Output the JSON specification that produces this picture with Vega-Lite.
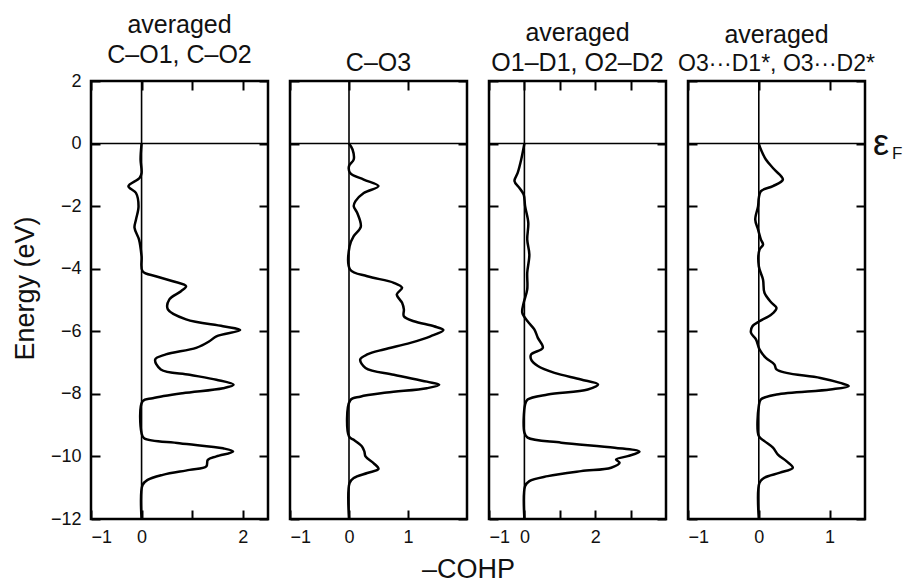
{
  "$schema": "https://vega.github.io/schema/vega-lite/v6.json",
  "padding": {"left": 10, "top": 11, "right": 0, "bottom": 0},
  "background": "white",
  "bounds": "flush",
  "spacing": 22,
  "config": {
    "font": "Liberation Sans",
    "view": {"stroke": "black", "strokeWidth": 2.5},
    "axis": {"grid": false, "domain": false, "tickColor": "black", "tickWidth": 2, "tickSize": -9, "labelFontSize": 18, "labelColor": "#111", "titleFontSize": 27, "titleFontWeight": "normal", "titleColor": "#111", "labelPadding": 18, "labelFont": "Liberation Sans", "titleFont": "Liberation Sans"},
    "title": {"fontSize": 25, "fontWeight": "normal", "color": "#111", "font": "Liberation Sans", "lineHeight": 30, "offset": 4}
  },
  "datasets": {
    "cohp": [
      {"b": 1, "E": 0.0, "C": 0},
      {"b": 1, "E": -0.51, "C": -0.02},
      {"b": 1, "E": -0.94, "C": 0},
      {"b": 1, "E": -1.10, "C": -0.04},
      {"b": 1, "E": -1.36, "C": -0.26},
      {"b": 1, "E": -1.58, "C": -0.11},
      {"b": 1, "E": -2.00, "C": -0.06},
      {"b": 1, "E": -2.43, "C": -0.11},
      {"b": 1, "E": -2.69, "C": -0.14},
      {"b": 1, "E": -3.07, "C": -0.05},
      {"b": 1, "E": -3.60, "C": 0},
      {"b": 1, "E": -4.08, "C": 0.02},
      {"b": 1, "E": -4.24, "C": 0.28},
      {"b": 1, "E": -4.40, "C": 0.62},
      {"b": 1, "E": -4.56, "C": 0.88},
      {"b": 1, "E": -4.72, "C": 0.78},
      {"b": 1, "E": -4.98, "C": 0.55},
      {"b": 1, "E": -5.30, "C": 0.52},
      {"b": 1, "E": -5.62, "C": 0.88},
      {"b": 1, "E": -5.84, "C": 1.61},
      {"b": 1, "E": -5.96, "C": 1.95},
      {"b": 1, "E": -6.16, "C": 1.48},
      {"b": 1, "E": -6.32, "C": 1.34},
      {"b": 1, "E": -6.53, "C": 1.08},
      {"b": 1, "E": -6.74, "C": 0.48},
      {"b": 1, "E": -6.90, "C": 0.27},
      {"b": 1, "E": -7.22, "C": 0.38},
      {"b": 1, "E": -7.39, "C": 0.95},
      {"b": 1, "E": -7.55, "C": 1.48},
      {"b": 1, "E": -7.71, "C": 1.82},
      {"b": 1, "E": -7.82, "C": 1.61},
      {"b": 1, "E": -7.98, "C": 0.81},
      {"b": 1, "E": -8.14, "C": 0.22},
      {"b": 1, "E": -8.24, "C": 0.02},
      {"b": 1, "E": -9.26, "C": 0},
      {"b": 1, "E": -9.42, "C": 0.05},
      {"b": 1, "E": -9.58, "C": 0.75},
      {"b": 1, "E": -9.74, "C": 1.61},
      {"b": 1, "E": -9.84, "C": 1.81},
      {"b": 1, "E": -10.00, "C": 1.48},
      {"b": 1, "E": -10.11, "C": 1.31},
      {"b": 1, "E": -10.32, "C": 1.28},
      {"b": 1, "E": -10.43, "C": 0.95},
      {"b": 1, "E": -10.59, "C": 0.42},
      {"b": 1, "E": -10.75, "C": 0.12},
      {"b": 1, "E": -10.91, "C": 0.02},
      {"b": 1, "E": -12.0, "C": 0},

      {"b": 2, "E": 0.0, "C": 0},
      {"b": 2, "E": -0.19, "C": 0.06},
      {"b": 2, "E": -0.51, "C": 0.08},
      {"b": 2, "E": -0.72, "C": 0},
      {"b": 2, "E": -0.94, "C": 0.02},
      {"b": 2, "E": -1.15, "C": 0.25},
      {"b": 2, "E": -1.36, "C": 0.50},
      {"b": 2, "E": -1.58, "C": 0.25},
      {"b": 2, "E": -1.84, "C": 0.11},
      {"b": 2, "E": -2.00, "C": 0.08},
      {"b": 2, "E": -2.22, "C": 0.14},
      {"b": 2, "E": -2.66, "C": 0.20},
      {"b": 2, "E": -2.96, "C": 0.08},
      {"b": 2, "E": -3.28, "C": 0.01},
      {"b": 2, "E": -4.03, "C": 0.02},
      {"b": 2, "E": -4.24, "C": 0.31},
      {"b": 2, "E": -4.45, "C": 0.76},
      {"b": 2, "E": -4.61, "C": 0.90},
      {"b": 2, "E": -4.82, "C": 0.81},
      {"b": 2, "E": -5.09, "C": 0.90},
      {"b": 2, "E": -5.30, "C": 0.93},
      {"b": 2, "E": -5.52, "C": 0.93},
      {"b": 2, "E": -5.68, "C": 1.10},
      {"b": 2, "E": -5.84, "C": 1.44},
      {"b": 2, "E": -5.96, "C": 1.60},
      {"b": 2, "E": -6.16, "C": 1.38},
      {"b": 2, "E": -6.37, "C": 1.04},
      {"b": 2, "E": -6.58, "C": 0.59},
      {"b": 2, "E": -6.74, "C": 0.31},
      {"b": 2, "E": -6.90, "C": 0.19},
      {"b": 2, "E": -7.17, "C": 0.28},
      {"b": 2, "E": -7.39, "C": 0.76},
      {"b": 2, "E": -7.61, "C": 1.32},
      {"b": 2, "E": -7.71, "C": 1.53},
      {"b": 2, "E": -7.82, "C": 1.32},
      {"b": 2, "E": -7.96, "C": 0.64},
      {"b": 2, "E": -8.09, "C": 0.19},
      {"b": 2, "E": -8.21, "C": 0.02},
      {"b": 2, "E": -9.36, "C": 0},
      {"b": 2, "E": -9.47, "C": 0.08},
      {"b": 2, "E": -9.68, "C": 0.22},
      {"b": 2, "E": -9.84, "C": 0.26},
      {"b": 2, "E": -10.00, "C": 0.28},
      {"b": 2, "E": -10.22, "C": 0.42},
      {"b": 2, "E": -10.40, "C": 0.50},
      {"b": 2, "E": -10.53, "C": 0.31},
      {"b": 2, "E": -10.69, "C": 0.08},
      {"b": 2, "E": -10.85, "C": 0.01},
      {"b": 2, "E": -12.0, "C": 0},

      {"b": 3, "E": 0.0, "C": 0},
      {"b": 3, "E": -0.51, "C": -0.09},
      {"b": 3, "E": -0.94, "C": -0.19},
      {"b": 3, "E": -1.20, "C": -0.28},
      {"b": 3, "E": -1.42, "C": -0.14},
      {"b": 3, "E": -1.63, "C": -0.02},
      {"b": 3, "E": -2.00, "C": 0.02},
      {"b": 3, "E": -2.53, "C": 0.11},
      {"b": 3, "E": -3.07, "C": 0.08},
      {"b": 3, "E": -3.55, "C": 0.14},
      {"b": 3, "E": -4.13, "C": 0.08},
      {"b": 3, "E": -4.66, "C": 0.08},
      {"b": 3, "E": -5.09, "C": -0.02},
      {"b": 3, "E": -5.41, "C": -0.06},
      {"b": 3, "E": -5.68, "C": 0.09},
      {"b": 3, "E": -5.94, "C": 0.28},
      {"b": 3, "E": -6.21, "C": 0.38},
      {"b": 3, "E": -6.53, "C": 0.52},
      {"b": 3, "E": -6.74, "C": 0.19},
      {"b": 3, "E": -6.90, "C": 0.19},
      {"b": 3, "E": -7.11, "C": 0.38},
      {"b": 3, "E": -7.33, "C": 0.85},
      {"b": 3, "E": -7.54, "C": 1.60},
      {"b": 3, "E": -7.70, "C": 2.08},
      {"b": 3, "E": -7.86, "C": 1.79},
      {"b": 3, "E": -8.02, "C": 0.66},
      {"b": 3, "E": -8.18, "C": 0.09},
      {"b": 3, "E": -8.34, "C": 0.02},
      {"b": 3, "E": -9.24, "C": 0},
      {"b": 3, "E": -9.40, "C": 0.09},
      {"b": 3, "E": -9.56, "C": 1.04},
      {"b": 3, "E": -9.72, "C": 2.55},
      {"b": 3, "E": -9.85, "C": 3.25},
      {"b": 3, "E": -9.99, "C": 2.92},
      {"b": 3, "E": -10.10, "C": 2.59},
      {"b": 3, "E": -10.20, "C": 2.69},
      {"b": 3, "E": -10.36, "C": 2.45},
      {"b": 3, "E": -10.47, "C": 1.60},
      {"b": 3, "E": -10.63, "C": 0.66},
      {"b": 3, "E": -10.79, "C": 0.14},
      {"b": 3, "E": -10.95, "C": 0.02},
      {"b": 3, "E": -12.0, "C": 0},

      {"b": 4, "E": 0.0, "C": 0},
      {"b": 4, "E": -0.19, "C": 0.03},
      {"b": 4, "E": -0.51, "C": 0.10},
      {"b": 4, "E": -0.83, "C": 0.22},
      {"b": 4, "E": -1.15, "C": 0.34},
      {"b": 4, "E": -1.36, "C": 0.20},
      {"b": 4, "E": -1.52, "C": 0.03},
      {"b": 4, "E": -1.74, "C": 0},
      {"b": 4, "E": -2.00, "C": -0.01},
      {"b": 4, "E": -2.43, "C": -0.05},
      {"b": 4, "E": -2.75, "C": -0.01},
      {"b": 4, "E": -3.07, "C": 0.03},
      {"b": 4, "E": -3.23, "C": 0.06},
      {"b": 4, "E": -3.39, "C": 0.01},
      {"b": 4, "E": -3.92, "C": 0},
      {"b": 4, "E": -4.35, "C": 0.06},
      {"b": 4, "E": -4.77, "C": 0.08},
      {"b": 4, "E": -5.09, "C": 0.18},
      {"b": 4, "E": -5.25, "C": 0.25},
      {"b": 4, "E": -5.46, "C": 0.18},
      {"b": 4, "E": -5.68, "C": 0.01},
      {"b": 4, "E": -5.84, "C": -0.09},
      {"b": 4, "E": -6.05, "C": -0.11},
      {"b": 4, "E": -6.26, "C": -0.04},
      {"b": 4, "E": -6.58, "C": 0.01},
      {"b": 4, "E": -6.85, "C": 0.10},
      {"b": 4, "E": -7.06, "C": 0.22},
      {"b": 4, "E": -7.22, "C": 0.25},
      {"b": 4, "E": -7.33, "C": 0.39},
      {"b": 4, "E": -7.49, "C": 0.87},
      {"b": 4, "E": -7.65, "C": 1.15},
      {"b": 4, "E": -7.75, "C": 1.27},
      {"b": 4, "E": -7.86, "C": 1.01},
      {"b": 4, "E": -8.02, "C": 0.25},
      {"b": 4, "E": -8.18, "C": 0.03},
      {"b": 4, "E": -8.39, "C": 0},
      {"b": 4, "E": -9.35, "C": 0},
      {"b": 4, "E": -9.51, "C": 0.08},
      {"b": 4, "E": -9.72, "C": 0.20},
      {"b": 4, "E": -9.94, "C": 0.27},
      {"b": 4, "E": -10.15, "C": 0.39},
      {"b": 4, "E": -10.36, "C": 0.48},
      {"b": 4, "E": -10.52, "C": 0.30},
      {"b": 4, "E": -10.68, "C": 0.08},
      {"b": 4, "E": -10.84, "C": 0.01},
      {"b": 4, "E": -12.0, "C": 0}
    ],
    "zero": [{"z": 0}],
    "fermi": [{"C": 1.5, "E": 0, "t": "ε", "s": "F"}]
  },
  "hconcat": [
    {
      "width": 177, "height": 438,
      "title": {"text": ["averaged", "C–O1, C–O2"]},
      "resolve": {"axis": {"x": "independent", "y": "independent"}},
      "layer": [
        {
          "data": {"name": "cohp"},
          "transform": [{"filter": "datum.b == 1"}],
          "mark": {"type": "line", "color": "black", "strokeWidth": 2.5, "interpolate": "catmull-rom", "clip": true},
          "encoding": {
            "x": {"field": "C", "type": "quantitative", "scale": {"domain": [-1, 2.5], "nice": false, "zero": false},
                  "axis": {"orient": "bottom", "values": [-1, 0, 1, 2], "labelExpr": "datum.value == 1 ? '' : datum.label", "title": null}},
            "y": {"field": "E", "type": "quantitative", "scale": {"domain": [-12, 2], "nice": false, "zero": false},
                  "axis": {"orient": "left", "values": [2, 0, -2, -4, -6, -8, -10, -12], "title": "Energy (eV)", "titlePadding": 11, "labelPadding": 19, "titleY": 207}},
            "order": {"field": "E", "sort": "descending"}
          }
        },
        {
          "data": {"name": "zero"},
          "mark": {"type": "rule", "color": "black", "strokeWidth": 1.6},
          "encoding": {"x": {"field": "z", "type": "quantitative", "axis": {"orient": "top", "values": [-1, 0, 1, 2], "labels": false, "title": null}}}
        },
        {
          "data": {"name": "zero"},
          "mark": {"type": "rule", "color": "black", "strokeWidth": 1.6},
          "encoding": {"y": {"field": "z", "type": "quantitative", "axis": {"orient": "right", "values": [2, 0, -2, -4, -6, -8, -10, -12], "labels": false, "title": null}}}
        }
      ]
    },
    {
      "width": 177, "height": 438,
      "title": {"text": ["", "C–O3"]},
      "resolve": {"axis": {"x": "independent", "y": "independent"}},
      "layer": [
        {
          "data": {"name": "cohp"},
          "transform": [{"filter": "datum.b == 2"}],
          "mark": {"type": "line", "color": "black", "strokeWidth": 2.5, "interpolate": "catmull-rom", "clip": true},
          "encoding": {
            "x": {"field": "C", "type": "quantitative", "scale": {"domain": [-1, 2], "nice": false, "zero": false},
                  "axis": {"orient": "bottom", "values": [-1, 0, 1], "title": "–COHP", "titleFontSize": 27, "titleX": 178, "titleY": 58, "titleAlign": "center", "titleBaseline": "alphabetic", "titleAnchor": null}},
            "y": {"field": "E", "type": "quantitative", "scale": {"domain": [-12, 2], "nice": false, "zero": false},
                  "axis": {"orient": "left", "values": [2, 0, -2, -4, -6, -8, -10, -12], "labels": false, "title": null}},
            "order": {"field": "E", "sort": "descending"}
          }
        },
        {
          "data": {"name": "zero"},
          "mark": {"type": "rule", "color": "black", "strokeWidth": 1.6},
          "encoding": {"x": {"field": "z", "type": "quantitative", "axis": {"orient": "top", "values": [-1, 0, 1], "labels": false, "title": null}}}
        },
        {
          "data": {"name": "zero"},
          "mark": {"type": "rule", "color": "black", "strokeWidth": 1.6},
          "encoding": {"y": {"field": "z", "type": "quantitative", "axis": {"orient": "right", "values": [2, 0, -2, -4, -6, -8, -10, -12], "labels": false, "title": null}}}
        }
      ]
    },
    {
      "width": 177, "height": 438,
      "title": {"text": ["averaged", "O1–D1, O2–D2"]},
      "resolve": {"axis": {"x": "independent", "y": "independent"}},
      "layer": [
        {
          "data": {"name": "cohp"},
          "transform": [{"filter": "datum.b == 3"}],
          "mark": {"type": "line", "color": "black", "strokeWidth": 2.5, "interpolate": "catmull-rom", "clip": true},
          "encoding": {
            "x": {"field": "C", "type": "quantitative", "scale": {"domain": [-1, 4], "nice": false, "zero": false},
                  "axis": {"orient": "bottom", "values": [-1, 0, 1, 2, 3], "labelExpr": "datum.value == 1 || datum.value == 3 ? '' : datum.label", "title": null}},
            "y": {"field": "E", "type": "quantitative", "scale": {"domain": [-12, 2], "nice": false, "zero": false},
                  "axis": {"orient": "left", "values": [2, 0, -2, -4, -6, -8, -10, -12], "labels": false, "title": null}},
            "order": {"field": "E", "sort": "descending"}
          }
        },
        {
          "data": {"name": "zero"},
          "mark": {"type": "rule", "color": "black", "strokeWidth": 1.6},
          "encoding": {"x": {"field": "z", "type": "quantitative", "axis": {"orient": "top", "values": [-1, 0, 1, 2, 3], "labels": false, "title": null}}}
        },
        {
          "data": {"name": "zero"},
          "mark": {"type": "rule", "color": "black", "strokeWidth": 1.6},
          "encoding": {"y": {"field": "z", "type": "quantitative", "axis": {"orient": "right", "values": [2, 0, -2, -4, -6, -8, -10, -12], "labels": false, "title": null}}}
        }
      ]
    },
    {
      "width": 177, "height": 438,
      "title": {"text": "averaged", "subtitle": "O3···D1*, O3···D2*", "subtitleFontSize": 23, "subtitleFont": "Liberation Sans", "subtitleColor": "#111", "subtitlePadding": 5},
      "resolve": {"axis": {"x": "independent", "y": "independent"}},
      "layer": [
        {
          "data": {"name": "cohp"},
          "transform": [{"filter": "datum.b == 4"}],
          "mark": {"type": "line", "color": "black", "strokeWidth": 2.5, "interpolate": "catmull-rom", "clip": true},
          "encoding": {
            "x": {"field": "C", "type": "quantitative", "scale": {"domain": [-1, 1.5], "nice": false, "zero": false},
                  "axis": {"orient": "bottom", "values": [-1, 0, 1], "title": null}},
            "y": {"field": "E", "type": "quantitative", "scale": {"domain": [-12, 2], "nice": false, "zero": false},
                  "axis": {"orient": "left", "values": [2, 0, -2, -4, -6, -8, -10, -12], "labels": false, "title": null}},
            "order": {"field": "E", "sort": "descending"}
          }
        },
        {
          "data": {"name": "zero"},
          "mark": {"type": "rule", "color": "black", "strokeWidth": 1.6},
          "encoding": {"x": {"field": "z", "type": "quantitative", "axis": {"orient": "top", "values": [-1, 0, 1], "labels": false, "title": null}}}
        },
        {
          "data": {"name": "zero"},
          "mark": {"type": "rule", "color": "black", "strokeWidth": 1.6},
          "encoding": {"y": {"field": "z", "type": "quantitative", "axis": {"orient": "right", "values": [2, 0, -2, -4, -6, -8, -10, -12], "labels": false, "title": null}}}
        },
        {
          "data": {"name": "fermi"},
          "mark": {"type": "text", "align": "left", "baseline": "middle", "dx": 8, "dy": 0, "fontSize": 36, "font": "Liberation Sans", "color": "#111"},
          "encoding": {
            "x": {"field": "C", "type": "quantitative", "axis": null},
            "y": {"field": "E", "type": "quantitative", "axis": null},
            "text": {"field": "t"}
          }
        },
        {
          "data": {"name": "fermi"},
          "mark": {"type": "text", "align": "left", "baseline": "middle", "dx": 27, "dy": 10, "fontSize": 17, "font": "Liberation Sans", "color": "#111"},
          "encoding": {
            "x": {"field": "C", "type": "quantitative", "axis": null},
            "y": {"field": "E", "type": "quantitative", "axis": null},
            "text": {"field": "s"}
          }
        }
      ]
    }
  ]
}
